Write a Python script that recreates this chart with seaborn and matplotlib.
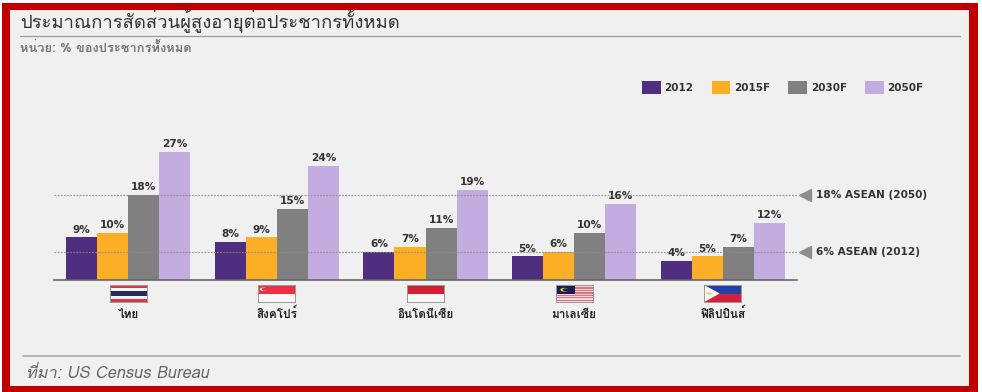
import matplotlib
matplotlib.use("Agg")
import matplotlib.pyplot as plt
import pandas as pd
import seaborn as sns
from matplotlib.lines import Line2D
from matplotlib.patches import Circle, Polygon, Rectangle

countries = ["ไทย", "สิงคโปร์", "อินโดนีเซีย", "มาเลเซีย", "ฟิลิปปินส์"]
years = ["2012", "2015F", "2030F", "2050F"]
share_2012 = [9, 8, 6, 5, 4]
share_2015 = [10, 9, 7, 6, 5]
share_2030 = [18, 15, 11, 10, 7]
share_2050 = [27, 24, 19, 16, 12]
asean_levels = [18, 6]
asean_labels = ["18% ASEAN (2050)", "6% ASEAN (2012)"]
colors = ["#4F2D7F", "#FDAE27", "#808080", "#C3ACE0"]

W, H = 982, 392
LATIN = "DejaVu Sans"

sns.set_theme(style="white")
plt.rcParams["font.family"] = ["Loma", "DejaVu Sans"]

df = pd.DataFrame(
    {
        "country": countries * 4,
        "year": [y for y in years for _ in countries],
        "share": share_2012 + share_2015 + share_2030 + share_2050,
    }
)


def px_rect(fig, x0, y0, x1, y1, color, zorder=-5):
    fig.add_artist(
        Rectangle(
            (x0 / W, 1 - y1 / H), (x1 - x0) / W, (y1 - y0) / H,
            transform=fig.transFigure, facecolor=color, edgecolor="none", zorder=zorder,
        )
    )


def px_hline(fig, x0, x1, y, color, lw):
    fig.add_artist(Line2D([x0 / W, x1 / W], [1 - y / H, 1 - y / H], color=color, lw=lw, zorder=-1))


def stripes(ax, bands):
    # bands run top to bottom as (height, colour)
    top = 1.0
    for height, color in bands:
        ax.axhspan(top - height, top, color=color, lw=0)
        top -= height


def flag_thailand(ax):
    stripes(ax, [(1 / 6, "#D9364A"), (1 / 6, "#F5F5F5"), (2 / 6, "#27285C"), (1 / 6, "#F5F5F5"), (1 / 6, "#D9364A")])


def flag_singapore(ax):
    stripes(ax, [(0.5, "#EE2F45"), (0.5, "#F7F7F7")])
    ax.add_patch(Circle((0.14, 0.75), 0.1, color="#F7F7F7", lw=0))
    ax.add_patch(Circle((0.18, 0.75), 0.09, color="#EE2F45", lw=0))


def flag_indonesia(ax):
    stripes(ax, [(0.5, "#CF2036"), (0.5, "#F7F7F7")])


def flag_malaysia(ax):
    stripes(ax, [(1 / 14, "#D9707A" if i % 2 == 0 else "#EFD9D9") for i in range(14)])
    ax.add_patch(Rectangle((0, 0.45), 0.52, 0.55, color="#1E1B52", lw=0))
    ax.add_patch(Circle((0.24, 0.72), 0.11, color="#E8D24A", lw=0))
    ax.add_patch(Circle((0.28, 0.72), 0.09, color="#1E1B52", lw=0))


def flag_philippines(ax):
    stripes(ax, [(0.5, "#2140A8"), (0.5, "#D5203A")])
    ax.add_patch(Polygon([(0, 0), (0, 1), (0.42, 0.5)], color="#F7F7F7", lw=0))
    ax.add_patch(Circle((0.13, 0.5), 0.07, color="#F2CE4B", lw=0))


flags = [flag_thailand, flag_singapore, flag_indonesia, flag_malaysia, flag_philippines]

fig = plt.figure(figsize=(W / 100, H / 100), dpi=100, facecolor="white")
px_rect(fig, 2, 3, 978, 392, "#C00000", zorder=-6)
px_rect(fig, 10, 10, 969, 386, "#F0F0F0")

ax = fig.add_axes([54 / W, 1 - 280 / H, (797 - 54) / W, 142.2 / H])
ax.patch.set_alpha(0)

sns.barplot(
    data=df, x="country", y="share", hue="year", palette=colors,
    width=0.835, gap=0, saturation=1, linewidth=0, ax=ax,
)
ax.set_xlim(-0.5, 4.5)
ax.set_ylim(0, 30)
ax.set_xlabel("")
ax.set_ylabel("")
ax.set_yticks([])
ax.tick_params(axis="x", length=0, pad=27)
for tick in ax.get_xticklabels():
    tick.set_fontsize(8.5)
    tick.set_fontweight("bold")
    tick.set_color("#222222")
    tick.set_verticalalignment("baseline")
sns.despine(ax=ax, left=True)
ax.spines["bottom"].set_color("#666666")
ax.spines["bottom"].set_linewidth(1.2)

for container in ax.containers:
    ax.bar_label(
        container, fmt="%g%%", padding=2, fontsize=7.6, fontweight="bold",
        color="#333333", family=LATIN,
    )

for level, label in zip(asean_levels, asean_labels):
    ax.axhline(level, color="#8A8A8A", lw=0.9, ls=(0, (1.5, 1)), alpha=0.8, zorder=5)
    ax.plot(1.0108, level, marker="<", ms=8.5, color="#8C8C8C", clip_on=False,
            transform=ax.get_yaxis_transform(), zorder=5)
    ax.annotate(
        label, (1.0, level), xycoords=ax.get_yaxis_transform(), xytext=(19, 0),
        textcoords="offset pixels", va="center", ha="left", fontsize=7.6,
        fontweight="bold", color="#333333", family=LATIN, annotation_clip=False,
    )

ax.legend(
    loc="upper left", bbox_to_anchor=(642 / W, 1 - 81 / H), bbox_transform=fig.transFigure,
    ncol=4, frameon=False, borderpad=0, borderaxespad=0, handlelength=1.8, handleheight=1.5,
    handletextpad=0.35, columnspacing=1.75,
    prop={"family": LATIN, "weight": "bold", "size": 7.5}, labelcolor="#333333",
)

for i, draw_flag in enumerate(flags):
    inset = ax.inset_axes([i - 0.125, -0.155, 0.25, 0.12], transform=ax.get_xaxis_transform())
    inset.set_xlim(0, 1)
    inset.set_ylim(0, 1)
    inset.set_xticks([])
    inset.set_yticks([])
    draw_flag(inset)
    for spine in inset.spines.values():
        spine.set_color("#999999")
        spine.set_linewidth(0.7)

px_hline(fig, 20, 960, 36, "#999999", 0.9)
px_hline(fig, 23, 960, 356, "#AAAAAA", 1.2)
fig.text(20 / W, 1 - 27 / H, "ประมาณการสัดส่วนผู้สูงอายุต่อประชากรทั้งหมด", fontsize=13.3,
         color="#333333", va="baseline", ha="left")
fig.text(20 / W, 1 - 52 / H, "หน่วย: % ของประชากรทั้งหมด", fontsize=9.3, fontweight="bold",
         color="#777777", va="baseline", ha="left")
fig.text(26 / W, 1 - 378 / H, "ที่มา: US Census Bureau", fontsize=11.8, style="italic",
         color="#666666", va="baseline", ha="left")

fig.savefig("out.png", dpi=100)
